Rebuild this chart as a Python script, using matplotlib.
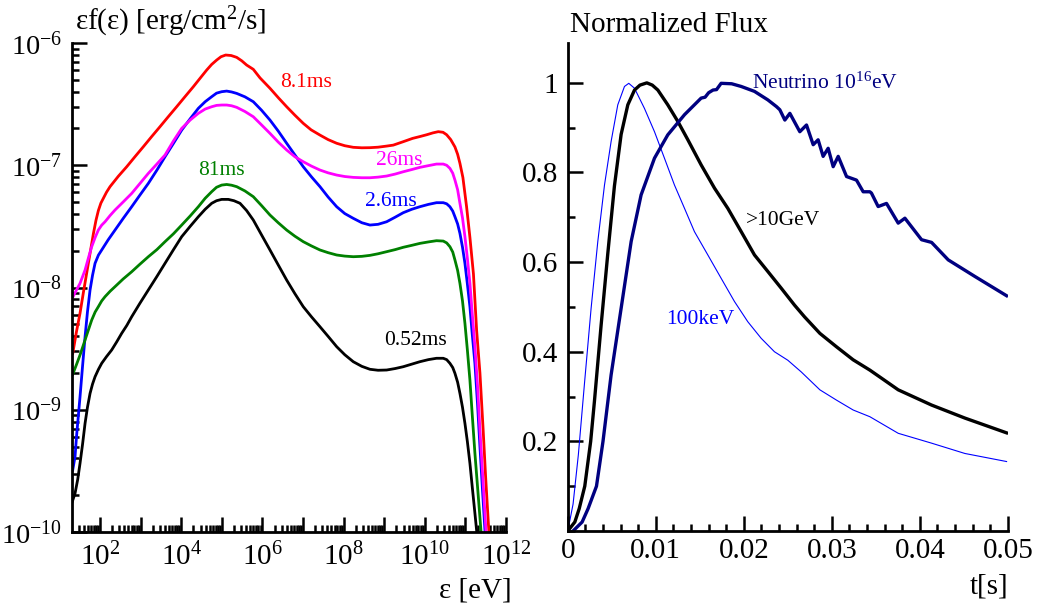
import numpy as np
import matplotlib
matplotlib.use("Agg")
import matplotlib.pyplot as plt
from matplotlib.ticker import FixedLocator, FixedFormatter, NullFormatter, MultipleLocator, FuncFormatter

plt.rcParams["font.family"] = ["Liberation Serif", "DejaVu Serif"]
plt.rcParams["mathtext.fontset"] = "custom"
plt.rcParams["mathtext.rm"] = "Liberation Serif"
plt.rcParams["mathtext.it"] = "Liberation Serif:italic"

# ---- left panel: spectra, read as log10(E [eV]) and log10(eps f(eps)) ----
red_logE = [1.327, 1.42, 1.507, 1.59, 1.672, 1.754, 1.836, 1.9, 1.959, 2.02, 2.082, 2.16, 2.246,
            2.45, 2.657, 2.86, 3.067, 3.27, 3.478, 3.68, 3.888, 4.09, 4.299, 4.46, 4.627, 4.75,
            4.874, 4.98, 5.095, 5.23, 5.366, 5.49, 5.612, 5.776, 5.941, 6.187, 6.4, 6.598, 6.8,
            7.007, 7.2, 7.419, 7.62, 7.83, 8.03, 8.239, 8.45, 8.65, 8.85, 9.06, 9.225, 9.47,
            9.7, 9.88, 10.05, 10.2, 10.333, 10.45, 10.539, 10.64, 10.744, 10.81, 10.867, 10.94,
            11.031, 11.113, 11.2, 11.278, 11.36, 11.44, 11.5, 11.58, 11.63]
red_logF = [-8.54, -8.36, -8.21, -8.04, -7.88, -7.72, -7.56, -7.45, -7.37, -7.31, -7.27, -7.22, -7.175,
            -7.09, -7.012, -6.93, -6.848, -6.766, -6.684, -6.603, -6.521, -6.44, -6.357, -6.29, -6.221, -6.175,
            -6.139, -6.112, -6.098, -6.102, -6.117, -6.145, -6.18, -6.215, -6.285, -6.37, -6.45, -6.521, -6.59,
            -6.657, -6.71, -6.753, -6.79, -6.82, -6.84, -6.853, -6.857, -6.856, -6.852, -6.843, -6.835, -6.807,
            -6.78, -6.765, -6.75, -6.735, -6.725, -6.73, -6.75, -6.79, -6.85, -6.91, -6.984, -7.10,
            -7.34, -7.59, -7.89, -8.35, -8.70, -9.17, -9.55, -10.0, -10.4]

blue_logE = [1.327, 1.384, 1.42, 1.507, 1.57, 1.631, 1.69, 1.754, 1.815, 1.877, 1.96, 2.041, 2.2,
             2.369, 2.57, 2.78, 2.98, 3.19, 3.4, 3.601, 3.81, 4.012, 4.22, 4.422, 4.59, 4.751,
             4.87, 4.997, 5.12, 5.24, 5.367, 5.57, 5.776, 5.98, 6.187, 6.39, 6.598, 6.8, 7.007,
             7.21, 7.419, 7.62, 7.83, 8.03, 8.239, 8.45, 8.65, 8.85, 9.061, 9.27, 9.47, 9.68,
             9.88, 10.09, 10.29, 10.456, 10.54, 10.62, 10.69, 10.744, 10.81, 10.867, 10.93, 10.99,
             11.05, 11.113, 11.17, 11.236, 11.3, 11.36, 11.42, 11.483, 11.53]
blue_logF = [-9.493, -9.384, -9.22, -8.893, -8.64, -8.402, -8.20, -8.02, -7.90, -7.802, -7.735, -7.693, -7.61,
             -7.53, -7.435, -7.339, -7.245, -7.148, -7.04, -6.93, -6.82, -6.712, -6.62, -6.534, -6.48, -6.439,
             -6.41, -6.398, -6.393, -6.40, -6.412, -6.44, -6.48, -6.55, -6.63, -6.72, -6.82, -6.915, -7.012,
             -7.095, -7.175, -7.26, -7.339, -7.395, -7.434, -7.47, -7.489, -7.483, -7.462, -7.425, -7.388, -7.36,
             -7.339, -7.32, -7.306, -7.306, -7.315, -7.339, -7.375, -7.421, -7.48, -7.557, -7.67, -7.802,
             -7.97, -8.157, -8.38, -8.62, -8.95, -9.302, -9.64, -9.984, -10.3]

mag_logE = [1.327, 1.42, 1.507, 1.631, 1.72, 1.795, 1.88, 1.958, 2.04, 2.123, 2.25, 2.369, 2.57,
            2.78, 2.98, 3.19, 3.4, 3.601, 3.81, 4.012, 4.22, 4.422, 4.59, 4.751, 4.87, 5.0, 5.12,
            5.24, 5.367, 5.57, 5.776, 5.98, 6.187, 6.39, 6.598, 6.8, 7.007, 7.21, 7.419, 7.62,
            7.83, 8.03, 8.239, 8.45, 8.65, 8.85, 9.061, 9.27, 9.47, 9.68, 9.88, 10.09, 10.29,
            10.456, 10.54, 10.62, 10.69, 10.744, 10.81, 10.867, 10.93, 10.99, 11.05, 11.113, 11.17,
            11.236, 11.3, 11.36, 11.43, 11.507, 11.55]
mag_logF = [-8.08, -8.02, -7.966, -7.857, -7.75, -7.666, -7.59, -7.53, -7.49, -7.462, -7.41, -7.366, -7.30,
            -7.23, -7.15, -7.066, -6.99, -6.916, -6.80, -6.698, -6.63, -6.575, -6.54, -6.521, -6.51, -6.507, -6.507,
            -6.513, -6.526, -6.56, -6.603, -6.67, -6.739, -6.81, -6.875, -6.93, -6.971, -7.007, -7.039, -7.062,
            -7.08, -7.092, -7.099, -7.102, -7.102, -7.097, -7.088, -7.072, -7.053, -7.035, -7.017, -7.003, -6.99,
            -6.99, -7.0, -7.025, -7.065, -7.121, -7.2, -7.311, -7.43, -7.584, -7.76, -7.966, -8.21,
            -8.484, -8.80, -9.166, -9.55, -9.984, -10.3]

green_logE = [1.327, 1.42, 1.507, 1.57, 1.631, 1.71, 1.795, 1.88, 1.958, 2.04, 2.123, 2.25, 2.369,
              2.57, 2.78, 2.98, 3.19, 3.4, 3.601, 3.81, 4.012, 4.22, 4.422, 4.59, 4.751, 4.87, 4.997,
              5.12, 5.24, 5.367, 5.57, 5.776, 5.98, 6.187, 6.39, 6.598, 6.8, 7.007, 7.21, 7.419,
              7.62, 7.83, 8.03, 8.239, 8.45, 8.65, 8.85, 9.061, 9.27, 9.47, 9.68, 9.88, 10.09,
              10.29, 10.456, 10.54, 10.62, 10.69, 10.744, 10.81, 10.867, 10.93, 10.99, 11.05, 11.113,
              11.17, 11.236, 11.31, 11.384, 11.43]
green_logF = [-8.71, -8.63, -8.552, -8.49, -8.429, -8.35, -8.266, -8.20, -8.157, -8.11, -8.075, -8.03, -7.993,
              -7.93, -7.871, -7.81, -7.748, -7.69, -7.625, -7.56, -7.489, -7.415, -7.339, -7.27, -7.216, -7.18, -7.162,
              -7.157, -7.163, -7.175, -7.21, -7.257, -7.33, -7.407, -7.47, -7.53, -7.58, -7.625, -7.66, -7.693,
              -7.715, -7.734, -7.743, -7.748, -7.745, -7.737, -7.724, -7.707, -7.69, -7.671, -7.655, -7.639, -7.627,
              -7.617, -7.62, -7.635, -7.666, -7.71, -7.775, -7.86, -7.966, -8.11, -8.293, -8.51, -8.757,
              -9.04, -9.356, -9.67, -9.984, -10.3]

black_logE = [1.303, 1.384, 1.45, 1.507, 1.57, 1.631, 1.69, 1.754, 1.815, 1.877, 1.96, 2.041, 2.16,
              2.287, 2.41, 2.533, 2.66, 2.78, 2.98, 3.19, 3.4, 3.601, 3.81, 4.012, 4.22, 4.422,
              4.59, 4.751, 4.87, 4.997, 5.16, 5.3, 5.448, 5.61, 5.776, 5.98, 6.187, 6.39, 6.598,
              6.8, 7.007, 7.21, 7.419, 7.62, 7.83, 8.03, 8.239, 8.45, 8.65, 8.85, 9.061, 9.27,
              9.47, 9.68, 9.88, 10.09, 10.29, 10.456, 10.54, 10.62, 10.69, 10.744, 10.81, 10.867,
              10.93, 10.99, 11.05, 11.113, 11.17, 11.236, 11.318]
black_logF = [-9.765, -9.684, -9.57, -9.438, -9.28, -9.111, -8.98, -8.866, -8.79, -8.73, -8.67, -8.62, -8.565,
              -8.511, -8.445, -8.375, -8.31, -8.239, -8.13, -8.02, -7.91, -7.802, -7.69, -7.584, -7.50, -7.421,
              -7.36, -7.311, -7.29, -7.279, -7.279, -7.29, -7.311, -7.37, -7.448, -7.57, -7.693, -7.815, -7.939,
              -8.05, -8.157, -8.24, -8.321, -8.40, -8.484, -8.55, -8.607, -8.645, -8.669, -8.677, -8.675, -8.663,
              -8.648, -8.627, -8.607, -8.59, -8.579, -8.579, -8.59, -8.62, -8.655, -8.702, -8.775, -8.866,
              -8.98, -9.111, -9.26, -9.438, -9.63, -9.847, -10.12]

# ---- right panel: normalized light curves ----
kev_t = [0.0, 0.0006, 0.0012, 0.0019, 0.00265, 0.00341, 0.00417, 0.00492, 0.00568,
         0.00644, 0.00693, 0.00758, 0.00871, 0.00985, 0.01098, 0.01212, 0.01326, 0.01439, 0.01591,
         0.01742, 0.01894, 0.02045, 0.02197, 0.02348, 0.025, 0.02652, 0.02864, 0.03053, 0.03242,
         0.03432, 0.03754, 0.04133, 0.04511, 0.04985]
kev_f = [0.0, 0.06, 0.17, 0.33, 0.497, 0.646, 0.772, 0.869, 0.951,
         0.992, 0.999, 0.988, 0.943, 0.891, 0.832, 0.772, 0.72, 0.668, 0.616,
         0.564, 0.512, 0.467, 0.43, 0.40, 0.381, 0.355, 0.315, 0.292, 0.27,
         0.255, 0.218, 0.196, 0.173, 0.155]

gev_t = [0.0, 0.0008, 0.0013, 0.00193, 0.0026, 0.00303, 0.00379, 0.00455, 0.0053, 0.00606,
         0.00682, 0.00758, 0.0082, 0.00898, 0.0096, 0.01023, 0.01136, 0.0125, 0.01364, 0.01515,
         0.01667, 0.01818, 0.0197, 0.02121, 0.02273, 0.02424, 0.02576, 0.02689, 0.02864, 0.03053,
         0.03242, 0.03432, 0.03564, 0.03754, 0.04133, 0.04511, 0.04985]
gev_f = [0.0, 0.02, 0.05, 0.1, 0.2, 0.29, 0.46, 0.62, 0.77, 0.885,
         0.951, 0.984, 0.995, 1.0, 0.995, 0.984, 0.951, 0.914, 0.873, 0.817,
         0.765, 0.72, 0.668, 0.616, 0.579, 0.542, 0.504, 0.478, 0.441, 0.411,
         0.382, 0.359, 0.341, 0.315, 0.281, 0.252, 0.219]

nu_t = [0.0006, 0.00163, 0.00231, 0.00326, 0.004, 0.00492, 0.00606, 0.0072, 0.00833, 0.00985,
        0.01136, 0.01326, 0.01515, 0.0156, 0.016, 0.0165, 0.0169, 0.01742, 0.01862, 0.0197,
        0.02121, 0.02273, 0.02371, 0.02409, 0.02466, 0.02523, 0.02636, 0.02712, 0.02788, 0.02844,
        0.02901, 0.02958, 0.03015, 0.03072, 0.03167, 0.0328, 0.03356, 0.03432, 0.0345, 0.03526,
        0.03621, 0.03754, 0.0383, 0.04019, 0.04133, 0.04322, 0.04625, 0.04985]
nu_f = [0.0, 0.02, 0.05, 0.1, 0.2, 0.348, 0.497, 0.646, 0.75, 0.832,
        0.884, 0.929, 0.966, 0.968, 0.978, 0.984, 0.985, 0.999, 0.998, 0.992,
        0.981, 0.962, 0.947, 0.94, 0.917, 0.932, 0.891, 0.906, 0.862, 0.873,
        0.836, 0.854, 0.813, 0.836, 0.791, 0.783, 0.757, 0.757, 0.754, 0.724,
        0.731, 0.687, 0.698, 0.65, 0.644, 0.605, 0.568, 0.525]

fig = plt.figure(figsize=(10.38, 6.15), dpi=100)
ax1 = fig.add_axes([0.0694, 0.135, 0.418, 0.795])
ax2 = fig.add_axes([0.547, 0.1366, 0.424, 0.7935])

spectra = [
    (red_logE, red_logF, "#ff0000"),
    (blue_logE, blue_logF, "#0000ff"),
    (mag_logE, mag_logF, "#ff00ff"),
    (green_logE, green_logF, "#008000"),
    (black_logE, black_logF, "#000000"),
]
for lx, ly, c in spectra:
    ax1.plot(10 ** np.array(lx), 10 ** np.array(ly), color=c, lw=2.0, solid_joinstyle="round")

ax1.set_xscale("log")
ax1.set_yscale("log")
ax1.set_xlim(10 ** 1.31, 1e12)
ax1.set_ylim(1e-10, 1e-6)

# ticks only inside the view range
x_dec = np.arange(2, 13)
x_minor = [m * 10.0 ** d for d in range(1, 12) for m in range(2, 10) if 10 ** 1.31 <= m * 10.0 ** d <= 1e12]
ax1.xaxis.set_major_locator(FixedLocator(10.0 ** x_dec))
ax1.xaxis.set_major_formatter(FixedFormatter([f"$10^{{{d}}}$" if d % 2 == 0 else "" for d in x_dec]))
ax1.xaxis.set_minor_locator(FixedLocator(x_minor))
ax1.xaxis.set_minor_formatter(NullFormatter())

y_dec = np.arange(-10, -5)
y_minor = [m * 10.0 ** d for d in range(-10, -6) for m in range(2, 10)]
ax1.yaxis.set_major_locator(FixedLocator(10.0 ** y_dec))
ax1.yaxis.set_major_formatter(FixedFormatter([f"$10^{{{d}}}$" for d in y_dec]))
ax1.yaxis.set_minor_locator(FixedLocator(y_minor))
ax1.yaxis.set_minor_formatter(NullFormatter())

ax1.text(10 ** 7.07, 10 ** -6.32, "8.1ms", color="#ff0000", fontsize=15.5, ha="center", va="center")
ax1.text(10 ** 9.36, 10 ** -6.957, "26ms", color="#ff00ff", fontsize=15.5, ha="center", va="center")
ax1.text(10 ** 9.17, 10 ** -7.30, "2.6ms", color="#0000ff", fontsize=15.5, ha="center", va="center")
ax1.text(10 ** 4.98, 10 ** -7.04, "81ms", color="#008000", fontsize=15.5, ha="center", va="center")
ax1.text(10 ** 9.76, 10 ** -8.435, "0.52ms", color="#000000", fontsize=15.5, ha="center", va="center")

ax2.plot(kev_t, kev_f, color="#0000ff", lw=0.8)
ax2.plot(gev_t, gev_f, color="#000000", lw=2.4, solid_joinstyle="round")
ax2.plot(nu_t, nu_f, color="#000080", lw=2.4, solid_joinstyle="round")
ax2.set_xlim(0, 0.05)
ax2.set_ylim(0, 1.089)
ax2.xaxis.set_major_locator(MultipleLocator(0.01))
ax2.xaxis.set_minor_locator(MultipleLocator(0.002))
ax2.yaxis.set_major_locator(FixedLocator([0.2, 0.4, 0.6, 0.8, 1.0]))
ax2.yaxis.set_minor_locator(MultipleLocator(0.1))
ax2.xaxis.set_major_formatter(FuncFormatter(lambda v, p: f"{v:g}"))
ax2.yaxis.set_major_formatter(FuncFormatter(lambda v, p: f"{v:g}"))

ax2.text(0.0209, 1.0, "Neutrino 10$^{16}$eV", color="#000080", fontsize=15.5, ha="left", va="center")
ax2.text(0.02443, 0.692, ">10GeV", color="#000000", fontsize=15.5, ha="center", va="center")
ax2.text(0.01511, 0.473, "100keV", color="#0000ff", fontsize=15.5, ha="center", va="center")

for ax in (ax1, ax2):
    ax.spines["top"].set_visible(False)
    ax.spines["right"].set_visible(False)
    ax.spines["left"].set_linewidth(2.0)
    ax.spines["bottom"].set_linewidth(2.0)
    ax.tick_params(which="both", direction="in", width=1.8, labelsize=21)
    ax.tick_params(which="major", length=11)
    ax.tick_params(which="minor", length=5)
    ax.tick_params(axis="y", pad=7)

ax1.tick_params(axis="y", labelsize=20.5)
ax1.tick_params(axis="x", pad=8)
ax2.tick_params(axis="x", pad=5)

fig.text(75 / 1038, 1 - 30 / 615, r"εf(ε) [erg/cm$^2$/s]", fontsize=21, ha="left", va="baseline")
fig.text(570 / 1038, 1 - 32 / 615, "Normalized Flux", fontsize=21, ha="left", va="baseline")
fig.text(512 / 1038, 1 - 598 / 615, "ε [eV]", fontsize=21, ha="right", va="baseline")
fig.text(1008 / 1038, 1 - 593 / 615, "t[s]", fontsize=21, ha="right", va="baseline")

fig.savefig("out.png", dpi=100)
